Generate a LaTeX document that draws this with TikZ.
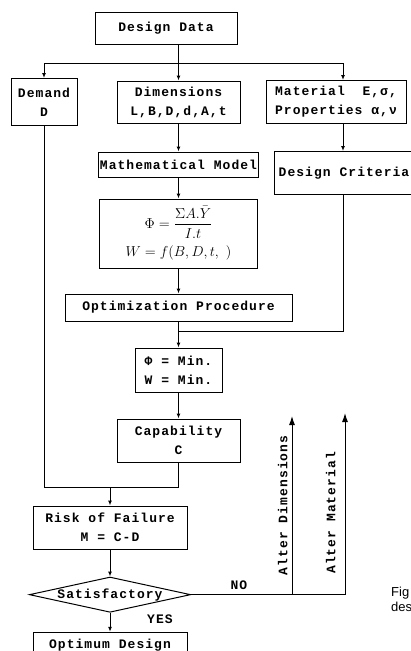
\documentclass[tikz,border=0pt]{standalone}
\usepackage{amsmath}
\usepackage{fontspec}
\setmonofont{Liberation Mono}[LetterSpace=8]
\newfontfamily\capfont{Liberation Sans}
\usetikzlibrary{shapes.geometric,arrows.meta,positioning,calc}

\begin{document}
\begin{tikzpicture}[
    x=1pt, y=-1pt,
    box/.style={rectangle, draw, line width=1pt, align=center, inner sep=1pt, font=\ttfamily\bfseries\fontsize{13}{19}\selectfont},
    test/.style={diamond, draw, line width=1pt, aspect=4.57, inner sep=0pt, minimum width=160pt, minimum height=35pt, font=\ttfamily\bfseries\fontsize{13}{19}\selectfont},
    lbl/.style={font=\ttfamily\bfseries\fontsize{13}{15}\selectfont, inner sep=1pt},
    arrow/.style={-{Latex[length=5pt,width=4pt]}, line width=1pt},
    alter/.style={-{Latex[length=9pt,width=6pt]}, line width=1pt}
]
    \useasboundingbox (0,0) rectangle (411,651);

    \node [box, minimum width=142pt, minimum height=32pt] (data) at (166,28) {Design Data};
    \node [box, minimum width=123pt, minimum height=42pt, below=36pt of data, xshift=12.5pt] (dims) {Dimensions\\L,B,D,d,A,t};
    \node [box, minimum width=66pt, minimum height=47pt, left=39pt of dims] (dem) {Demand\\D};
    \node [box, minimum width=140pt, minimum height=43pt, right=25pt of dims, align=left] (mat) {Material~~E,σ,\\Properties α,ν};
    \node [box, minimum width=158pt, minimum height=25pt, below=28pt of dims] (model) {Mathematical Model};
    \node [box, minimum width=152pt, minimum height=43pt, anchor=north west] (crit) at ([xshift=8pt,yshift=-27pt]mat.south west) {\hspace*{-12pt}Design Criteria};
    \node [box, minimum width=158pt, minimum height=69pt, below=21pt of model, font=\fontsize{14}{16}\selectfont] (form) {$\Phi = \dfrac{\Sigma A.\bar{Y}}{I.t}$\\[7pt] $W = f(B,D,t,\ )$};
    \node [box, minimum width=227pt, minimum height=27pt, below=25pt of form] (opt) {Optimization Procedure};
    \node [box, minimum width=87pt, minimum height=44pt, below=26pt of opt] (phi) {Φ = Min.\\W = Min.};
    \node [box, minimum width=123pt, minimum height=43pt, below=26pt of phi] (cap) {Capability\\C};
    \node [box, minimum width=154pt, minimum height=43pt, below=43pt of cap, xshift=-68.5pt] (risk) {Risk of Failure\\M = C-D};
    \node [test, below=27pt of risk] (sat) {Satisfactory};
    \node [box, minimum width=154pt, minimum height=26pt, below=19pt of sat] (optd) {Optimum Design};
    \node [lbl, below right=1pt and 36pt of sat.south] (yes) {YES};

    % caption cut off at the page edge
    \node [font=\capfont\fontsize{13}{14}\selectfont, anchor=west, inner sep=0pt] (fig) at (391,593) {Fig};
    \node [font=\capfont\fontsize{13}{14}\selectfont, anchor=west, inner sep=0pt] (de) at (391,607) {des};

    \coordinate (br) at ([yshift=-19pt]data.south -| dims.north);
    \coordinate (jn) at ([yshift=-25pt]cap.south -| risk.north);
    \coordinate (ad) at (292,416);
    \coordinate (am) at (345,413);

    \draw [arrow] (data.south -| dims.north) -- (dims.north);
    \draw [arrow] (br) -| (dem.north);
    \draw [arrow] (br) -| ([xshift=7pt]mat.north);
    \draw [arrow] (dims) -- (model);
    \draw [arrow] ([xshift=7pt]mat.south) -- ([xshift=7pt]mat.south |- crit.north);
    \draw [arrow] (model) -- (form);
    \draw [arrow] (form) -- (opt);
    \draw [arrow] (opt) -- (phi);
    \draw ([xshift=7pt]mat.south |- crit.south) |- ([yshift=-10pt]opt.south);
    \draw [arrow] (phi) -- (cap);
    \draw (dem.south) |- (cap.south |- jn) -- (cap.south);
    \draw [arrow] (jn) -- (risk.north);
    \draw [arrow] (risk) -- (sat);
    \draw [arrow] (sat) -- (optd);
    \draw (sat.east) -- node [lbl, pos=0.31, above=4pt] (no) {NO} (sat.east -| am);
    \draw [alter] (sat.east -| ad) -- node [lbl, pos=0.5, rotate=90, anchor=south, inner sep=4pt] (altd) {Alter Dimensions} (ad);
    \draw [alter] (sat.east -| am) -- node [lbl, pos=0.45, rotate=90, anchor=south, inner sep=9pt] (altm) {Alter Material} (am);
\end{tikzpicture}
\end{document}
